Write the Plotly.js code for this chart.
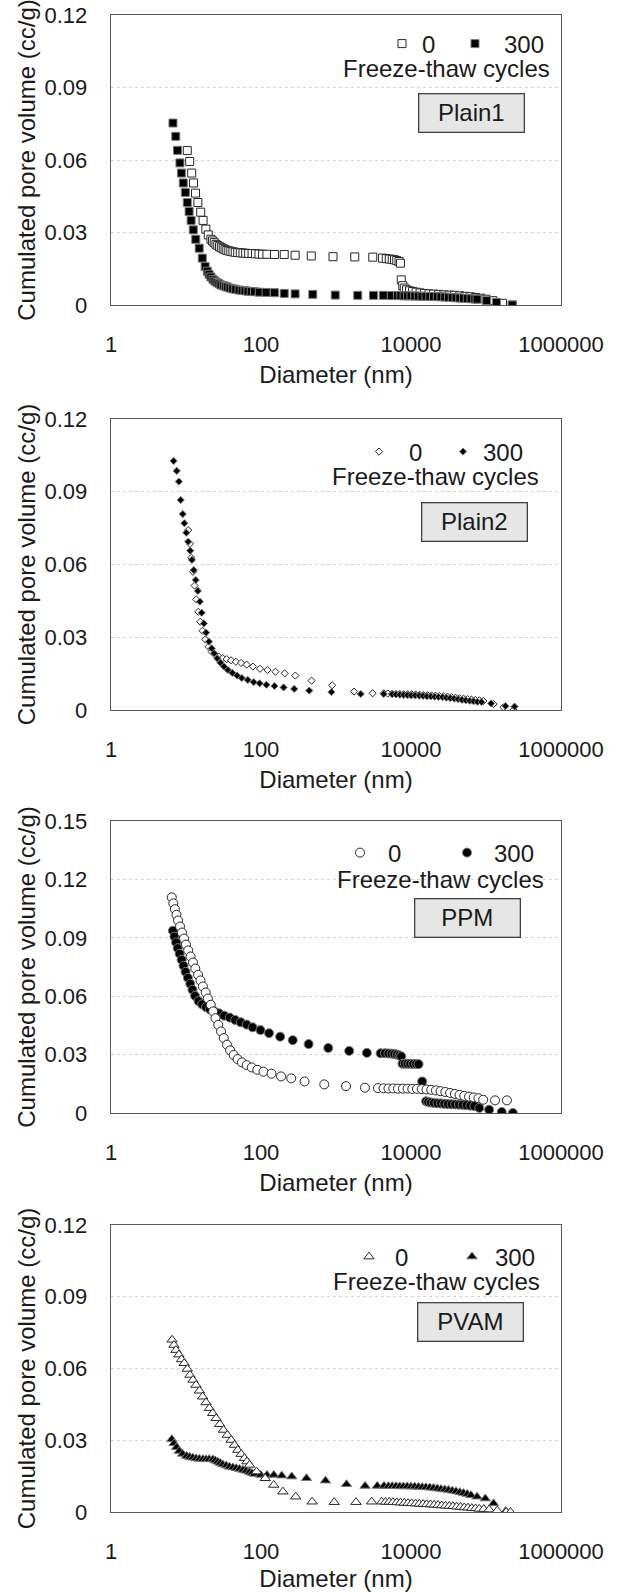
<!DOCTYPE html>
<html><head><meta charset="utf-8">
<script src="https://cdn.plot.ly/plotly-3.0.1.min.js"></script>
<style>html,body{margin:0;padding:0;background:#fff;} #chart{width:621px;height:1592px;}</style>
</head><body><div id="chart"></div>
<script>
// ---------------- DATA ----------------
const diameterTicks = [1, 100, 10000, 1000000];
const diameterTickText = ['1', '100', '10000', '1000000'];
const volTicks12 = [0, 0.03, 0.06, 0.09, 0.12];
const volTickText12 = ['0', '0.03', '0.06', '0.09', '0.12'];
const volTicks15 = [0, 0.03, 0.06, 0.09, 0.12, 0.15];
const volTickText15 = ['0', '0.03', '0.06', '0.09', '0.12', '0.15'];
const cycleNames = ['0', '300'];
const panelNames = ['Plain1', 'Plain2', 'PPM', 'PVAM'];

// Plain1, 0 cycles (open squares)
const plain1_d0 = [10.4, 11.2, 11.9, 12.6, 13.4, 14.4, 15.7, 16.9, 18.4, 19.8, 21.5, 22.6, 23.8, 25.1, 26.5, 28.0, 29.6, 31.3, 33.1, 35.0, 37.2, 39.6, 42.3, 45.4, 49.0, 53.0, 57.5, 62.5, 68.5, 76.0, 84.3, 94.0, 105, 120, 151, 204, 285, 468, 912, 1780, 3090, 4170, 4680, 5130, 5620, 6030, 6460, 6920, 7240, 7410, 7760, 8130, 8710, 9550, 10500, 11700, 13200, 15100, 17400, 20000, 23400, 27500, 32400, 38000, 44700, 52500, 61700, 72400, 85100, 100000, 123000, 166000, 224000];
const plain1_v0 = [0.0639, 0.0594, 0.0546, 0.0505, 0.0463, 0.0424, 0.0384, 0.0350, 0.0314, 0.0290, 0.0272, 0.0265, 0.0258, 0.0251, 0.0246, 0.0241, 0.0237, 0.0233, 0.0229, 0.0226, 0.0224, 0.0222, 0.0220, 0.0218, 0.0217, 0.0216, 0.0215, 0.0214, 0.0213, 0.0213, 0.0212, 0.0211, 0.0210, 0.0210, 0.0209, 0.0209, 0.0206, 0.0203, 0.0200, 0.0199, 0.0198, 0.0194, 0.0192, 0.0190, 0.0189, 0.0187, 0.0184, 0.0180, 0.0173, 0.0104, 0.0080, 0.0070, 0.0063, 0.0059, 0.0056, 0.0053, 0.0050, 0.0048, 0.0046, 0.0045, 0.0044, 0.0042, 0.0041, 0.0040, 0.0038, 0.0036, 0.0034, 0.0031, 0.0028, 0.0024, 0.0018, 0.0007, 0.0000];
// Plain1, 300 cycles (filled squares)
const plain1_d300 = [6.7, 7.3, 7.7, 8.3, 8.7, 9.2, 9.8, 10.4, 11.0, 11.7, 12.5, 13.5, 15.0, 16.5, 18.0, 19.2, 20.3, 21.5, 22.9, 24.3, 25.9, 27.5, 29.2, 31.5, 33.5, 35.5, 38.5, 42.0, 46.0, 51.0, 56.0, 61.0, 67.0, 74.0, 82.0, 95.0, 117, 151, 204, 285, 490, 977, 1950, 3160, 4270, 5500, 6600, 7300, 8100, 9000, 10000, 11200, 12500, 14000, 15800, 17800, 20000, 22400, 25100, 28200, 31600, 35500, 39800, 44700, 50100, 56200, 63100, 70800, 75900, 102000, 138000, 224000];
const plain1_v300 = [0.0753, 0.0698, 0.0640, 0.0588, 0.0546, 0.0505, 0.0466, 0.0424, 0.0387, 0.0350, 0.0311, 0.0272, 0.0235, 0.0194, 0.0159, 0.0140, 0.0127, 0.0116, 0.0106, 0.0099, 0.0093, 0.0088, 0.0083, 0.0080, 0.0077, 0.0074, 0.0070, 0.0067, 0.0065, 0.0062, 0.0060, 0.0059, 0.0057, 0.0056, 0.0055, 0.0053, 0.0052, 0.0051, 0.0048, 0.0046, 0.0044, 0.0041, 0.0040, 0.0040, 0.0040, 0.0039, 0.0039, 0.0039, 0.0038, 0.0038, 0.0038, 0.0037, 0.0037, 0.0036, 0.0036, 0.0035, 0.0035, 0.0035, 0.0034, 0.0033, 0.0032, 0.0031, 0.0030, 0.0029, 0.0028, 0.0027, 0.0026, 0.0025, 0.0024, 0.0018, 0.0011, 0.0000];

// Plain2, 0 cycles (open diamonds)
const plain2_d0 = [10.7, 11.3, 11.8, 12.4, 13.0, 13.7, 14.6, 15.5, 16.6, 18.1, 20.0, 22.0, 24.5, 27.4, 30.9, 34.9, 39.9, 46.2, 54.2, 64.3, 78.0, 97.0, 122, 156, 207, 287, 472, 889, 1740, 3080, 4330, 4900, 5600, 6300, 7100, 8000, 9000, 10200, 11500, 13000, 14700, 16600, 18800, 21200, 24000, 27100, 30600, 34600, 39100, 44200, 50000, 56500, 63800, 72100, 81500, 92100, 126000, 171000, 232000];
const plain2_v0 = [0.0742, 0.0685, 0.0628, 0.0570, 0.0513, 0.0456, 0.0405, 0.0364, 0.0327, 0.0291, 0.0261, 0.0241, 0.0227, 0.0220, 0.0214, 0.0210, 0.0205, 0.0199, 0.0194, 0.0187, 0.0179, 0.0170, 0.0165, 0.0158, 0.0151, 0.0142, 0.0121, 0.0102, 0.0076, 0.0069, 0.0069, 0.0068, 0.0067, 0.0066, 0.0066, 0.0065, 0.0065, 0.0065, 0.0064, 0.0063, 0.0062, 0.0061, 0.0060, 0.0059, 0.0058, 0.0057, 0.0055, 0.0053, 0.0051, 0.0049, 0.0047, 0.0045, 0.0043, 0.0041, 0.0040, 0.0037, 0.0025, 0.0011, 0.0000];
// Plain2, 300 cycles (filled diamonds)
const plain2_d300 = [6.84, 7.53, 8.02, 8.51, 9.06, 9.51, 10.1, 10.7, 11.4, 12.0, 12.7, 13.5, 14.4, 15.3, 16.2, 17.3, 18.5, 20.2, 22.0, 23.7, 26.1, 28.8, 32.1, 36.2, 41.4, 48.0, 55.5, 66.7, 80.0, 95.9, 118, 151, 200, 277, 440, 869, 2140, 4330, 5620, 6300, 7100, 8000, 9000, 10100, 11400, 12900, 14500, 16300, 18400, 20700, 23300, 26300, 29600, 33400, 37600, 42400, 47800, 53900, 60700, 68400, 77000, 87000, 117000, 182000, 240000];
const plain2_v300 = [0.1027, 0.0986, 0.0942, 0.0866, 0.0808, 0.0770, 0.0731, 0.0694, 0.0657, 0.0619, 0.0577, 0.0536, 0.0491, 0.0447, 0.0401, 0.0357, 0.0319, 0.0282, 0.0254, 0.0234, 0.0213, 0.0195, 0.0179, 0.0165, 0.0153, 0.0142, 0.0132, 0.0124, 0.0115, 0.0110, 0.0104, 0.0099, 0.0093, 0.0087, 0.0080, 0.0074, 0.0066, 0.0066, 0.0065, 0.0064, 0.0063, 0.0062, 0.0061, 0.0060, 0.0060, 0.0059, 0.0058, 0.0057, 0.0056, 0.0055, 0.0054, 0.0053, 0.0051, 0.0049, 0.0047, 0.0045, 0.0042, 0.0040, 0.0038, 0.0036, 0.0034, 0.0033, 0.0027, 0.0016, 0.0014];

// PPM, 0 cycles (open circles)
const ppm_d0 = [6.46, 6.78, 7.11, 7.46, 7.83, 8.32, 8.83, 9.40, 9.98, 10.7, 11.5, 12.4, 13.3, 14.5, 15.6, 16.8, 18.3, 19.6, 21.4, 23.0, 24.7, 26.9, 29.3, 31.9, 35.2, 38.7, 43.2, 48.8, 55.7, 64.4, 75.3, 89.3, 108, 138, 185, 253, 381, 698, 1360, 2430, 3620, 4300, 5000, 5800, 6700, 7800, 9000, 10400, 12000, 13900, 16100, 18600, 21500, 24800, 28700, 33200, 38400, 44400, 51300, 59300, 68600, 79300, 91700, 132000, 190000];
const ppm_v0 = [0.1108, 0.1077, 0.1047, 0.1018, 0.0989, 0.0958, 0.0927, 0.0896, 0.0865, 0.0835, 0.0804, 0.0773, 0.0742, 0.0710, 0.0681, 0.0650, 0.0619, 0.0588, 0.0556, 0.0522, 0.0487, 0.0453, 0.0419, 0.0385, 0.0351, 0.0322, 0.0298, 0.0277, 0.0260, 0.0246, 0.0234, 0.0222, 0.0212, 0.0202, 0.0188, 0.0178, 0.0162, 0.0147, 0.0138, 0.0130, 0.0128, 0.0127, 0.0126, 0.0126, 0.0125, 0.0125, 0.0125, 0.0124, 0.0124, 0.0123, 0.0121, 0.0119, 0.0116, 0.0112, 0.0108, 0.0103, 0.0098, 0.0093, 0.0088, 0.0084, 0.0080, 0.0076, 0.0068, 0.0065, 0.0065];
// PPM, 300 cycles (filled circles)
const ppm_d300 = [6.68, 7.01, 7.38, 7.74, 8.22, 8.73, 9.27, 9.86, 10.6, 11.4, 12.2, 13.2, 14.7, 16.4, 18.5, 20.9, 23.8, 27.6, 32.3, 38.3, 45.3, 53.7, 64.4, 77.3, 98.4, 128, 180, 265, 431, 789, 1500, 2580, 3940, 4500, 5000, 5500, 6000, 6500, 7000, 7400, 7700, 8300, 9000, 9800, 10700, 11700, 12600, 14100, 15900, 17000, 18500, 20300, 22500, 25000, 27800, 31000, 34700, 38900, 43600, 49000, 55000, 62000, 70000, 81500, 110000, 162000, 228000];
const ppm_v300 = [0.0936, 0.0906, 0.0876, 0.0847, 0.0818, 0.0787, 0.0756, 0.0725, 0.0694, 0.0664, 0.0633, 0.0602, 0.0575, 0.0558, 0.0544, 0.0532, 0.0522, 0.0512, 0.0500, 0.0490, 0.0478, 0.0466, 0.0454, 0.0440, 0.0426, 0.0410, 0.0392, 0.0374, 0.0354, 0.0334, 0.0319, 0.0309, 0.0307, 0.0307, 0.0306, 0.0305, 0.0303, 0.0300, 0.0296, 0.0291, 0.0253, 0.0253, 0.0253, 0.0253, 0.0252, 0.0252, 0.0251, 0.0162, 0.0060, 0.0057, 0.0054, 0.0052, 0.0050, 0.0049, 0.0047, 0.0046, 0.0045, 0.0044, 0.0043, 0.0042, 0.0040, 0.0038, 0.0036, 0.0026, 0.0017, 0.0005, 0.0000];

// PVAM, 0 cycles (open triangles)
const pvam_d0 = [6.52, 6.92, 7.35, 8.04, 8.71, 9.48, 10.4, 11.3, 12.4, 13.6, 15.1, 16.7, 18.5, 20.5, 22.7, 25.2, 28.2, 31.6, 35.5, 40.0, 44.3, 49.1, 54.3, 60.3, 65.0, 70.3, 87.1, 114, 148, 196, 290, 480, 946, 1850, 2990, 4070, 4570, 5130, 5750, 6460, 7240, 8130, 9120, 10200, 11500, 12900, 14500, 16200, 18200, 20400, 22900, 25700, 28800, 32400, 36300, 40700, 45700, 51300, 57500, 64600, 72400, 81300, 93300, 110000, 141000, 186000, 212000];
const pvam_v0 = [0.0720, 0.0698, 0.0677, 0.0658, 0.0638, 0.0622, 0.0598, 0.0573, 0.0552, 0.0531, 0.0507, 0.0482, 0.0458, 0.0434, 0.0413, 0.0392, 0.0367, 0.0343, 0.0322, 0.0301, 0.0280, 0.0259, 0.0242, 0.0225, 0.0211, 0.0197, 0.0169, 0.0141, 0.0113, 0.0085, 0.0064, 0.0043, 0.0041, 0.0041, 0.0043, 0.0043, 0.0042, 0.0042, 0.0041, 0.0040, 0.0039, 0.0038, 0.0037, 0.0036, 0.0035, 0.0034, 0.0033, 0.0032, 0.0031, 0.0030, 0.0029, 0.0027, 0.0026, 0.0025, 0.0024, 0.0022, 0.0021, 0.0019, 0.0018, 0.0016, 0.0015, 0.0013, 0.0012, 0.0010, 0.0006, 0.0000, 0.0000];
// PVAM, 300 cycles (filled triangles)
const pvam_d300 = [6.46, 6.92, 7.50, 8.13, 9.02, 10.2, 11.2, 12.3, 13.6, 15.1, 16.8, 18.5, 20.4, 22.8, 24.5, 26.5, 28.6, 30.9, 34.3, 38.0, 42.2, 46.7, 51.6, 57.3, 63.1, 70.3, 75.9, 82.0, 98.9, 120, 148, 189, 257, 404, 724, 1380, 2440, 3550, 4370, 5010, 5620, 6310, 7080, 7940, 8910, 10000, 11200, 12600, 14100, 15800, 17800, 20000, 22400, 25100, 28200, 31600, 35500, 39800, 44700, 50100, 56200, 63100, 75900, 97700, 126000, 182000];
const pvam_v300 = [0.0304, 0.0287, 0.0271, 0.0255, 0.0243, 0.0234, 0.0230, 0.0227, 0.0224, 0.0222, 0.0221, 0.0220, 0.0221, 0.0220, 0.0215, 0.0210, 0.0205, 0.0199, 0.0194, 0.0189, 0.0186, 0.0183, 0.0180, 0.0176, 0.0172, 0.0167, 0.0163, 0.0159, 0.0155, 0.0155, 0.0155, 0.0152, 0.0148, 0.0141, 0.0131, 0.0116, 0.0109, 0.0109, 0.0109, 0.0108, 0.0108, 0.0108, 0.0107, 0.0107, 0.0107, 0.0106, 0.0106, 0.0105, 0.0104, 0.0103, 0.0102, 0.0100, 0.0098, 0.0096, 0.0094, 0.0092, 0.0089, 0.0086, 0.0083, 0.0079, 0.0075, 0.0070, 0.0064, 0.0056, 0.0036, 0.0003];

// ---------------- LAYOUT / STYLE ----------------
const W = 621, H = 1592, ML = 111, MR = 60;
const PW = W - ML - MR;
const FONT = '"Liberation Sans", Arial, Helvetica, sans-serif';
const TXT = '#1a1a1a';
const px = p => (p - ML) / PW;       // pixel x -> paper x
const py = p => 1 - p / H;           // pixel y -> paper y
const yTitle = 'Cumulated pore volume (cc/g)\u00a0\u00a0\u00a0\u00a0';

// leg0 / leg3: legend position for the "0" and "300" entries: marker centre x (m), text gap (g), row y (y)
const panels = [
  {name: panelNames[0], sym: 'square', size: 8, d0: plain1_d0, v0: plain1_v0, d3: plain1_d300, v3: plain1_v300,
   ymax: 0.12, tv: volTicks12, tt: volTickText12, top: 15, bot: 305, openOnTop: false,
   leg0: {m: 402, g: 20, y: 44}, leg3: {m: 475, g: 29, y: 44}, ft: {x: 552, y: 68}, box: {x: 471, y: 113}},
  {name: panelNames[1], sym: 'diamond', size: 5.5, d0: plain2_d0, v0: plain2_v0, d3: plain2_d300, v3: plain2_v300,
   ymax: 0.12, tv: volTicks12, tt: volTickText12, top: 419, bot: 710, openOnTop: false,
   leg0: {m: 379, g: 30, y: 452}, leg3: {m: 463, g: 20, y: 452}, ft: {x: 541, y: 476}, box: {x: 474, y: 522}},
  {name: panelNames[2], sym: 'circle', size: 9, d0: ppm_d0, v0: ppm_v0, d3: ppm_d300, v3: ppm_v300,
   ymax: 0.15, tv: volTicks15, tt: volTickText15, top: 821, bot: 1113, openOnTop: true,
   leg0: {m: 360, g: 28, y: 853}, leg3: {m: 467, g: 27, y: 853}, ft: {x: 546, y: 880}, box: {x: 467, y: 918}},
  {name: panelNames[3], sym: 'triangle-up', size: 9, d0: pvam_d0, v0: pvam_v0, d3: pvam_d300, v3: pvam_v300,
   ymax: 0.12, tv: volTicks12, tt: volTickText12, top: 1225, bot: 1512, openOnTop: true,
   leg0: {m: 369, g: 26, y: 1257}, leg3: {m: 472, g: 23, y: 1257}, ft: {x: 542, y: 1281}, box: {x: 470, y: 1322}}
];

const data = [];
const layout = {
  width: W, height: H,
  margin: {l: ML, r: MR, t: 0, b: 0},
  paper_bgcolor: '#ffffff', plot_bgcolor: '#ffffff',
  font: {family: FONT, color: TXT},
  showlegend: true,
  annotations: []
};

function legendFor(spec) {
  const iw = Math.max(30, 2 * spec.g - 10);
  const centre = (iw + 10) / 2;
  return {
    orientation: 'h', x: px(spec.m - centre), y: py(spec.y), xanchor: 'left', yanchor: 'middle',
    xref: 'paper', yref: 'paper',
    bgcolor: 'rgba(0,0,0,0)', borderwidth: 0,
    font: {family: FONT, size: 24, color: TXT},
    itemwidth: iw, itemclick: false, itemdoubleclick: false
  };
}

panels.forEach((p, i) => {
  const n = i + 1;
  const sfx = n === 1 ? '' : String(n);
  const leg0Id = 'legend' + (2 * i + 1 === 1 ? '' : String(2 * i + 1));
  const leg3Id = 'legend' + String(2 * i + 2);
  const open = {
    type: 'scatter', mode: 'markers', name: cycleNames[0], x: p.d0, y: p.v0,
    xaxis: 'x' + sfx, yaxis: 'y' + sfx, legend: leg0Id,
    marker: {symbol: p.sym, size: p.size, color: '#ffffff', line: {color: '#262626', width: 1}},
    hoverinfo: 'x+y'
  };
  const filled = {
    type: 'scatter', mode: 'markers', name: cycleNames[1], x: p.d3, y: p.v3,
    xaxis: 'x' + sfx, yaxis: 'y' + sfx, legend: leg3Id,
    marker: {symbol: p.sym, size: p.size, color: '#000000', line: {color: '#7a7a7a', width: 1}},
    hoverinfo: 'x+y'
  };
  if (p.openOnTop) { data.push(filled, open); } else { data.push(open, filled); }

  layout['xaxis' + sfx] = {
    type: 'log', range: [0, 6], domain: [0, 1], anchor: 'y' + sfx,
    tickmode: 'array', tickvals: diameterTicks, ticktext: diameterTickText,
    showgrid: false, zeroline: false,
    showline: true, mirror: true, linecolor: '#595959', linewidth: 1.3,
    ticks: 'outside', ticklen: 19, tickcolor: 'rgba(0,0,0,0)',
    tickfont: {family: FONT, size: 22, color: TXT},
    title: {text: 'Diameter (nm)', font: {family: FONT, size: 24, color: TXT}, standoff: 10},
    automargin: false
  };
  layout['yaxis' + sfx] = {
    range: [0, p.ymax], domain: [py(p.bot), py(p.top)], anchor: 'x' + sfx,
    tickmode: 'array', tickvals: p.tv, ticktext: p.tt,
    showgrid: true, gridcolor: '#d4d4d4', griddash: 'dot', gridwidth: 1,
    zeroline: false,
    showline: true, mirror: true, linecolor: '#595959', linewidth: 1.3,
    ticks: 'outside', ticklen: 18, tickcolor: 'rgba(0,0,0,0)',
    tickfont: {family: FONT, size: 22, color: TXT},
    title: {text: yTitle, font: {family: FONT, size: 24, color: TXT}, standoff: 2},
    automargin: false
  };
  layout[leg0Id] = legendFor(p.leg0);
  layout[leg3Id] = legendFor(p.leg3);
  layout.annotations.push({
    xref: 'paper', yref: 'paper', x: px(p.ft.x), y: py(p.ft.y), xanchor: 'right', yanchor: 'middle',
    text: 'Freeze-thaw cycles', showarrow: false, font: {family: FONT, size: 24, color: TXT}
  });
  layout.annotations.push({
    xref: 'paper', yref: 'paper', x: px(p.box.x), y: py(p.box.y), xanchor: 'center', yanchor: 'middle',
    text: p.name, showarrow: false, font: {family: FONT, size: 24, color: TXT},
    bgcolor: '#e6e6e6', bordercolor: '#404040', borderwidth: 1.3, borderpad: 2,
    width: 100, height: 33, align: 'center', valign: 'middle'
  });
});

Plotly.newPlot('chart', data, layout, {displayModeBar: false, responsive: false, staticPlot: true});
</script></body></html>
